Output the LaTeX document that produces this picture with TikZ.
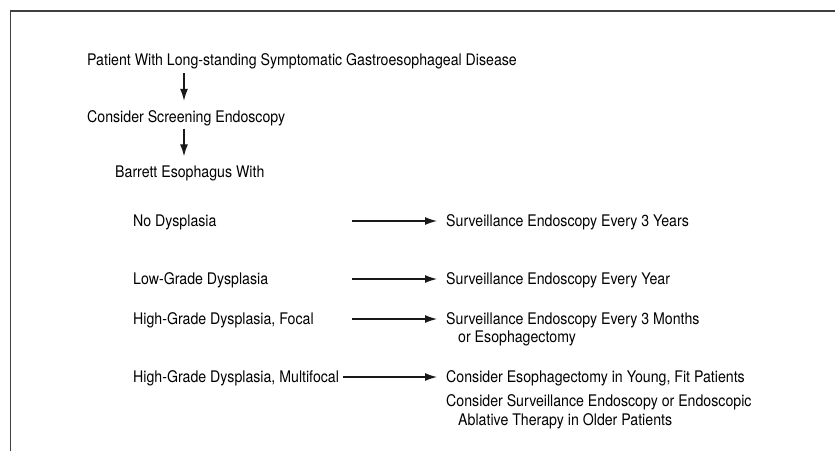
\documentclass[tikz,border=0pt]{standalone}
\usepackage{fontspec}
\setmainfont{TeX Gyre Heros}[FakeStretch=0.885]
\usetikzlibrary{arrows.meta}

\begin{document}
\begin{tikzpicture}[x=1pt, y=-1pt,
  txt/.style={anchor=base west, inner sep=0pt, text height=11pt, text depth=0pt,
    font=\fontsize{16}{18}\selectfont, text=black},
  flow/.style={line width=1.3pt, black!90, -{Latex[length=12pt, width=8pt]}}]
\useasboundingbox (0,0) rectangle (835,451);
\draw[line width=1.3pt, black!75] (10.5,451) -- (10.5,11) -- (835,11);
% left column
\node[txt] (patient) at (87,65.5) {Patient With Long-standing Symptomatic Gastroesophageal Disease};
\node[txt] (screen) at (87,122.5) {Consider Screening Endoscopy};
\node[txt] (barrett) at (115,177.5) {Barrett Esophagus With};
\node[txt] (nod) at (133,226.5) {No Dysplasia};
\node[txt] (lgd) at (133,284.5) {Low-Grade Dysplasia};
\node[txt] (hgf) at (133,324.5) {High-Grade Dysplasia, Focal};
\node[txt] (hgm) at (133,382.5) {High-Grade Dysplasia, Multifocal};
% right column
\node[txt] (r1) at (446,226.5) {Surveillance Endoscopy Every 3 Years};
\node[txt] (r2) at (446,284.5) {Surveillance Endoscopy Every Year};
\node[txt] (r3) at (446,324.5) {Surveillance Endoscopy Every 3 Months};
\node[txt] (r3b) at (458,342.5) {or Esophagectomy};
\node[txt] (r4) at (446,382.5) {Consider Esophagectomy in Young, Fit Patients};
\node[txt] (r4b) at (446,406.5) {Consider Surveillance Endoscopy or Endoscopic};
\node[txt] (r4c) at (458,425.5) {Ablative Therapy in Older Patients};
% arrows
\coordinate (down) at (184,0);
\draw[flow, shorten <=7.5pt, shorten >=10.5pt] (down |- patient.south) -- (down |- screen.north);
\draw[flow, shorten <=6pt, shorten >=10pt] (down |- screen.south) -- (down |- barrett.north);
\coordinate (s1) at ([xshift=-94pt]r1.west);
\coordinate (s2) at ([xshift=-94pt]r2.west);
\coordinate (s3) at ([xshift=-94pt]r3.west);
\coordinate (s4) at ([xshift=-103pt]r4.west);
\foreach \s/\r in {s1/r1, s2/r2, s3/r3, s4/r4}
  \draw[flow, shorten >=9pt] (\s) -- (\r.west);
\end{tikzpicture}
\end{document}
